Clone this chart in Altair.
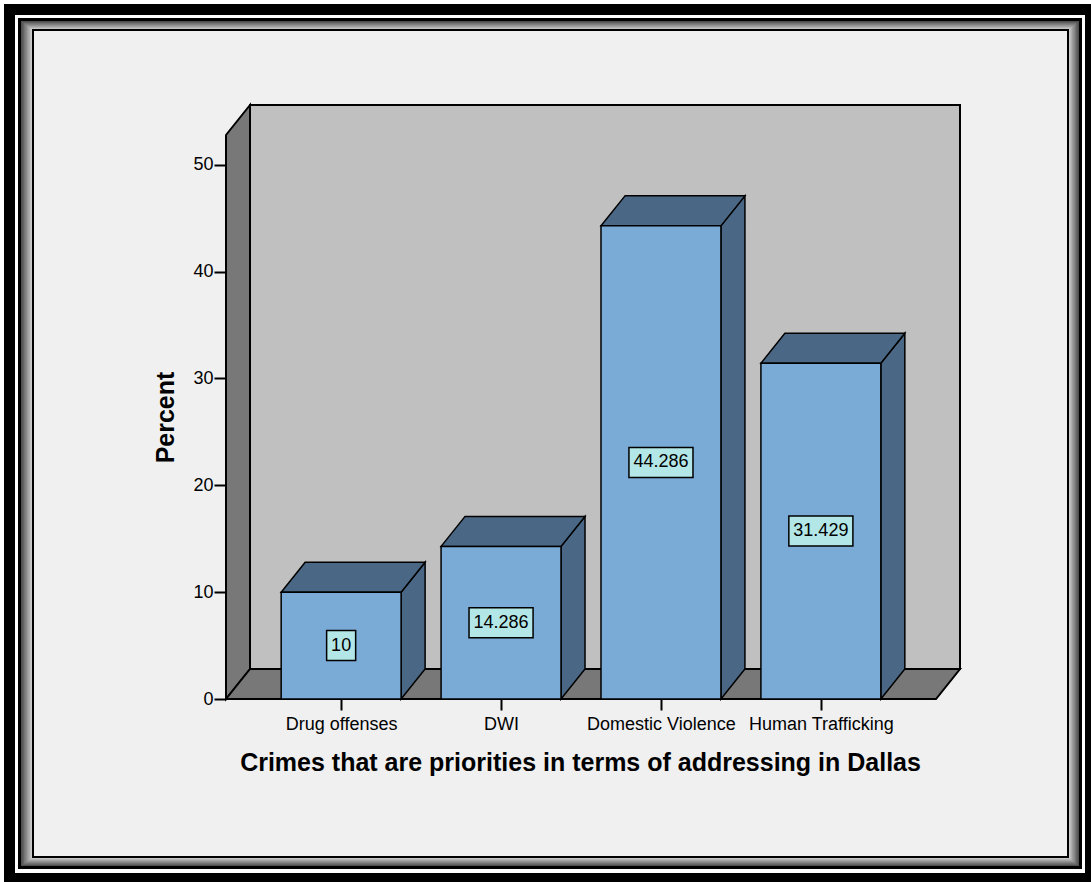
import json

import altair as alt
import pandas as pd

# ---- data -------------------------------------------------------------
categories = ["Drug offenses", "DWI", "Domestic Violence", "Human Trafficking"]
percents = [10.0, 14.286, 44.286, 31.429]
value_labels = ["10", "14.286", "44.286", "31.429"]
y_ticks = [0, 10, 20, 30, 40, 50]

x_title = "Crimes that are priorities in terms of addressing in Dallas"
y_title = "Percent"

# ---- geometry (x in category units, y in percent) ---------------------
FONT = "Liberation Sans"
W, H = 734, 594                 # plot area in pixels
OX, OY = 226, 105               # plot origin on the page
X_MIN, X_MAX = -0.72, 3.87
Y_MAX = 55.6
PX_X = W / (X_MAX - X_MIN)
PX_Y = H / Y_MAX
DEPTH_X = 24 / PX_X             # 3-D depth offset
DEPTH_Y = 30 / PX_Y
HALF = 0.375                    # half bar width
WALL_TOP = Y_MAX - DEPTH_Y
FLOOR_RIGHT = X_MAX - DEPTH_X

FRONT = "#7aaad6"
SHADE = "#4a6885"
WALL = "#c0c0c0"
SIDE = "#787878"
BOX = "#b3e6e6"

xs = alt.Scale(domain=[X_MIN, X_MAX], nice=False, zero=False)
ys = alt.Scale(domain=[0, Y_MAX], nice=False, zero=False)

# ---- tables built from the arrays --------------------------------------
bars = pd.DataFrame({
    "bar": categories,
    "pos": list(range(len(categories))),
    "value": percents,
    "label": value_labels,
})
bars["left"] = bars["pos"] - HALF
bars["right"] = bars["pos"] + HALF
bars["base"] = 0.0
bars["mid"] = bars["value"] / 2

# label boxes sized from Arial glyph widths
glyph = {".": 0.278}
def text_px(s, size=18):
    return sum(glyph.get(c, 0.556) for c in s) * size

bars["bx0"] = bars["pos"] - [(text_px(s) / 2 + 4.5) / PX_X for s in value_labels]
bars["bx1"] = bars["pos"] + [(text_px(s) / 2 + 4.5) / PX_X for s in value_labels]
bars["by0"] = bars["mid"] - 15 / PX_Y
bars["by1"] = bars["mid"] + 15 / PX_Y

side_rows, top_rows = [], []
for i, v in enumerate(percents):
    side_rows.append({"bar": i, "x": i + HALF, "y": 0.0, "y2": v})
    side_rows.append({"bar": i, "x": i + HALF + DEPTH_X, "y": DEPTH_Y, "y2": v + DEPTH_Y})
    top_rows.append({"bar": i, "y": v, "x": i - HALF, "x2": i + HALF})
    top_rows.append({"bar": i, "y": v + DEPTH_Y, "x": i - HALF + DEPTH_X, "x2": i + HALF + DEPTH_X})
side_df = pd.DataFrame(side_rows)
top_df = pd.DataFrame(top_rows)

back_df = pd.DataFrame({"x": [X_MIN + DEPTH_X], "x2": [X_MAX], "y": [DEPTH_Y], "y2": [Y_MAX]})
lwall_df = pd.DataFrame({"x": [X_MIN, X_MIN + DEPTH_X], "y": [0.0, DEPTH_Y], "y2": [WALL_TOP, Y_MAX]})
floor_df = pd.DataFrame({"y": [0.0, DEPTH_Y], "x": [X_MIN, X_MIN + DEPTH_X], "x2": [FLOOR_RIGHT, X_MAX]})

one = pd.DataFrame({"k": [0]})

# ---- page frame -------------------------------------------------------
def frame_rect(x0, y0, x1, y1, fill, stroke=None, sw=0):
    mark = {"fill": fill}
    if stroke:
        mark.update(stroke=stroke, strokeWidth=sw)
    return alt.Chart(one).mark_rect(**mark).encode(
        x=alt.value(x0 - OX), x2=alt.value(x1 - OX),
        y=alt.value(y0 - OY), y2=alt.value(y1 - OY),
    )

frame = [
    frame_rect(4, 4, 1096, 888, "black"),
    frame_rect(15, 15, 1085, 873, "white"),
    frame_rect(18, 18, 1082, 869, "black"),
]
# bevel: dark outside, light inside
outer = (21, 21, 1079, 866)
inner = (33, 30, 1068, 857)
steps = 8
for k in range(steps):
    t = k / steps
    box = [o + (n - o) * t for o, n in zip(outer, inner)]
    g = int(round(80 + (212 - 80) * k / (steps - 1)))
    frame.append(frame_rect(*box, "#%02x%02x%02x" % (g, g, g)))
frame.append(frame_rect(*inner, "#f0f0f0", "black", 2))

# ---- axes (same definition in every layer so they merge into one) -----
x_axis = alt.Axis(
    values=list(range(len(categories))),
    labelExpr=json.dumps(categories) + "[datum.value]",
    title=x_title, domain=False, grid=False, zindex=1,
    tickSize=11, tickWidth=2, tickColor="black",
    labelFont=FONT, labelFontSize=18, labelColor="black", labelPadding=5,
    labelOverlap=False, labelFlush=False,
    titleFont=FONT, titleFontSize=25, titleFontWeight="bold", titleColor="black",
    titleX=354, titleY=71, titleAlign="center", titleBaseline="alphabetic",
)
y_axis = alt.Axis(
    values=y_ticks, title=y_title, domain=False, grid=False, zindex=1,
    tickSize=12, tickWidth=2, tickColor="black",
    labelFont=FONT, labelFontSize=18, labelColor="black", labelPadding=1,
    labelFlush=False,
    titleFont=FONT, titleFontSize=25, titleFontWeight="bold", titleColor="black",
    titleAngle=270, titleX=-53, titleY=312, titleAlign="center",
    titleBaseline="alphabetic",
)

def X(field, **kw):
    return alt.X(field, scale=xs, axis=x_axis, **kw)

def Y(field, **kw):
    return alt.Y(field, scale=ys, axis=y_axis, **kw)

# ---- 3-D box: back wall, left wall, floor ------------------------------
back = alt.Chart(back_df).mark_rect(fill=WALL, stroke="black", strokeWidth=2).encode(
    x=X("x:Q"), x2="x2:Q", y=Y("y:Q"), y2="y2:Q",
)
lwall = alt.Chart(lwall_df).mark_area(
    fill=SIDE, stroke="black", strokeWidth=2, opacity=1
).encode(
    x=X("x:Q"), y=Y("y:Q", stack=False), y2="y2:Q",
)
floor = alt.Chart(floor_df).mark_area(
    orient="horizontal", fill=SIDE, stroke="black", strokeWidth=2, opacity=1
).encode(
    y=Y("y:Q"), x=X("x:Q", stack=False), x2="x2:Q",
)

# ---- bars ---------------------------------------------------------------
side = alt.Chart(side_df).mark_area(
    fill=SHADE, stroke="black", strokeWidth=1.5, opacity=1
).encode(
    x=X("x:Q"), y=Y("y:Q", stack=False), y2="y2:Q", detail="bar:N",
)
top = alt.Chart(top_df).mark_area(
    orient="horizontal", fill=SHADE, stroke="black", strokeWidth=1.5, opacity=1
).encode(
    y=Y("y:Q"), x=X("x:Q", stack=False), x2="x2:Q", detail="bar:N",
)
front = alt.Chart(bars).mark_rect(fill=FRONT, stroke="black", strokeWidth=1.5).encode(
    x=X("left:Q"), x2="right:Q", y=Y("base:Q"), y2="value:Q",
)

# ---- value labels ----------------------------------------------------------
boxes = alt.Chart(bars).mark_rect(fill=BOX, stroke="black", strokeWidth=1.5).encode(
    x=X("bx0:Q"), x2="bx1:Q", y=Y("by0:Q"), y2="by1:Q",
)
texts = alt.Chart(bars).mark_text(
    font=FONT, fontSize=18, color="black", align="center", baseline="middle"
).encode(
    x=X("pos:Q"), y=Y("mid:Q"), text="label:N",
)

chart = alt.layer(
    *frame, back, lwall, floor, side, top, front, boxes, texts
).properties(
    width=W, height=H,
    padding={"left": OX, "top": OY, "right": 1091 - OX - W, "bottom": 882 - OY - H},
    autosize=alt.AutoSizeParams(type="none"),
    background="white",
).configure_view(strokeWidth=0)

chart.save("out.html", embed_options={"renderer": "svg", "actions": False})
